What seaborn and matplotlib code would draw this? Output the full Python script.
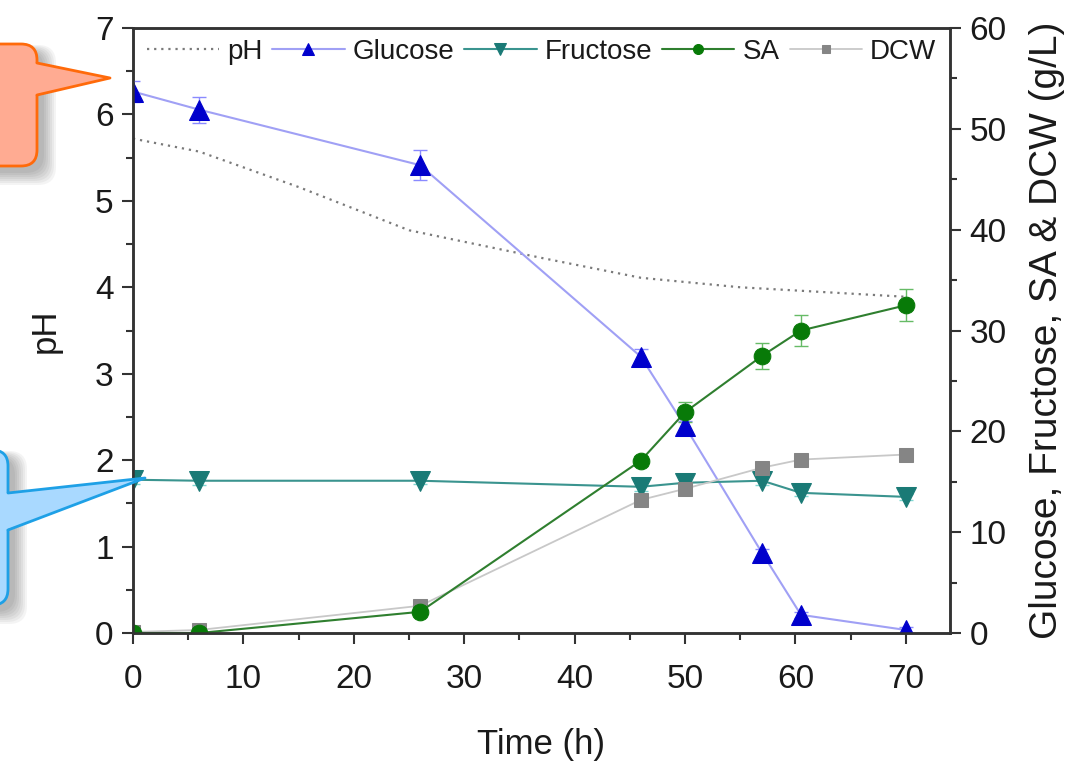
import matplotlib
matplotlib.use('Agg')
from matplotlib import pyplot as plt
from matplotlib.patches import FancyBboxPatch, Polygon
from matplotlib.lines import Line2D
from matplotlib.ticker import MultipleLocator
import seaborn as sns

# fermentation time course (h)
time = [0, 6, 26, 46, 50, 57, 60.5, 70]
glucose = [53.7, 51.9, 46.4, 27.4, 20.5, 7.9, 1.8, 0.3]
glucose_err = [1.0, 1.3, 1.5, 0.8, 0.5, 0.4, 0.3, 0.3]
fructose = [15.2, 15.1, 15.1, 14.5, 14.9, 15.1, 13.9, 13.5]
fructose_err = [0.4, 0.4, 0.3, 0.4, 0.3, 0.4, 0.3, 0.3]
sa = [0.0, 0.0, 2.1, 17.1, 21.9, 27.5, 30.0, 32.5]
sa_err = [0.0, 0.0, 0.3, 0.5, 1.0, 1.3, 1.5, 1.6]
dcw = [0.1, 0.3, 2.7, 13.2, 14.3, 16.4, 17.2, 17.7]

ph_time = [0, 6, 15, 25, 37, 46, 55, 70]
ph = [5.72, 5.57, 5.16, 4.66, 4.34, 4.11, 4.00, 3.89]

sns.set_style('ticks')
plt.rcParams['font.family'] = ['Liberation Sans', 'DejaVu Sans']

fig = plt.figure(figsize=(10.76, 7.61), dpi=100)
ax = fig.add_axes([0.1236, 0.1682, 0.7593, 0.795])
ax2 = ax.twinx()

sns.lineplot(x=ph_time, y=ph, ax=ax, color='#7a7a7a', linestyle=(0, (1, 2.2)), lw=1.6, label='pH')

ax2.errorbar(time, glucose, yerr=glucose_err, fmt='none', ecolor='#8a8aff', capsize=5, lw=1)
ax2.errorbar(time, fructose, yerr=fructose_err, fmt='none', ecolor='#7fd6d0', capsize=5, lw=1)
ax2.errorbar(time, sa, yerr=sa_err, fmt='none', ecolor='#66bb66', capsize=5, lw=1)

sns.lineplot(x=time, y=glucose, ax=ax2, color='#a0a0f5', lw=1.5, marker='^', markersize=14,
             markerfacecolor='#0000cc', markeredgecolor='#0000cc', label='Glucose')
sns.lineplot(x=time, y=fructose, ax=ax2, color='#3a948f', lw=1.5, marker='v', markersize=14,
             markerfacecolor='#1a7a76', markeredgecolor='#1a7a76', label='Fructose')
sns.lineplot(x=time, y=dcw, ax=ax2, color='#c8c8c8', lw=1.3, marker='s', markersize=10,
             markerfacecolor='#858585', markeredgecolor='#858585', label='DCW')
sns.lineplot(x=time, y=sa, ax=ax2, color='#2f7f2f', lw=1.5, marker='o', markersize=12,
             markerfacecolor='#087a08', markeredgecolor='#087a08', label='SA')

ax.set_xlim(0, 74)
ax.set_ylim(0, 7)
ax2.set_ylim(0, 60)
ax.xaxis.set_major_locator(MultipleLocator(10))
ax.xaxis.set_minor_locator(MultipleLocator(5))
ax.yaxis.set_major_locator(MultipleLocator(1))
ax.yaxis.set_minor_locator(MultipleLocator(0.5))
ax2.yaxis.set_major_locator(MultipleLocator(10))
ax2.yaxis.set_minor_locator(MultipleLocator(5))

for a in (ax, ax2):
    a.tick_params(which='major', direction='out', length=8, width=1.5, labelsize=24,
                  colors='#333333', labelcolor='#1a1a1a', pad=6)
    a.tick_params(which='minor', direction='out', length=5, width=1.5, colors='#333333')
    for s in a.spines.values():
        s.set_linewidth(1.8)
        s.set_color('#333333')
        s.set_visible(True)
ax.tick_params(axis='x', which='major', pad=14)

ax.set_xlabel('Time (h)', fontsize=25, labelpad=24, color='#1a1a1a')
ax.set_ylabel('pH', fontsize=25, labelpad=24, color='#1a1a1a')
ax2.set_ylabel('Glucose, Fructose, SA & DCW (g/L)', fontsize=28, labelpad=16, color='#1a1a1a')

ax.get_legend().remove()
h1, l1 = ax.get_legend_handles_labels()
h2, l2 = ax2.get_legend_handles_labels()
handles = dict(zip(l1 + l2, h1 + h2))
order = ['pH', 'Glucose', 'Fructose', 'SA', 'DCW']
ax2.legend([handles[k] for k in order], order, loc='upper center', ncol=5, frameon=False,
           fontsize=20, handlelength=2.6, handletextpad=0.3, columnspacing=0.35,
           markerscale=0.6, bbox_to_anchor=(0.5, 1.0), borderaxespad=0.0,
           labelcolor='#1a1a1a')

H = 761


def callout(x0, x1, y0, y1, base_top, base_bot, tip, face, edge):
    for k in range(7):
        sh = FancyBboxPatch((x0 + 7, H - y1 - 7 - k), x1 - x0 + k, y1 - y0 + k,
                            boxstyle='round,pad=%d,rounding_size=18' % k, transform=None,
                            fc='#000000', ec='none', alpha=0.045)
        fig.add_artist(sh)
    box = FancyBboxPatch((x0, H - y1), x1 - x0, y1 - y0, boxstyle='round,pad=0,rounding_size=16',
                         transform=None, fc=face, ec=edge, lw=2)
    fig.add_artist(box)
    tri = Polygon([(x1 - 3, H - base_top), (tip[0], H - tip[1]), (x1 - 3, H - base_bot)],
                  closed=True, transform=None, fc=face, ec='none')
    fig.add_artist(tri)
    fig.add_artist(Line2D([x1, tip[0], x1], [H - base_top, H - tip[1], H - base_bot],
                          transform=None, color=edge, lw=2))


callout(-40, 37, 44, 166, 63, 95, (110, 78), '#ffab92', '#ff6a0a')
callout(-120, 8, 450, 605, 493, 530, (145, 478), '#a9d9ff', '#1ea0e6')

fig.savefig('out.png', dpi=100)
